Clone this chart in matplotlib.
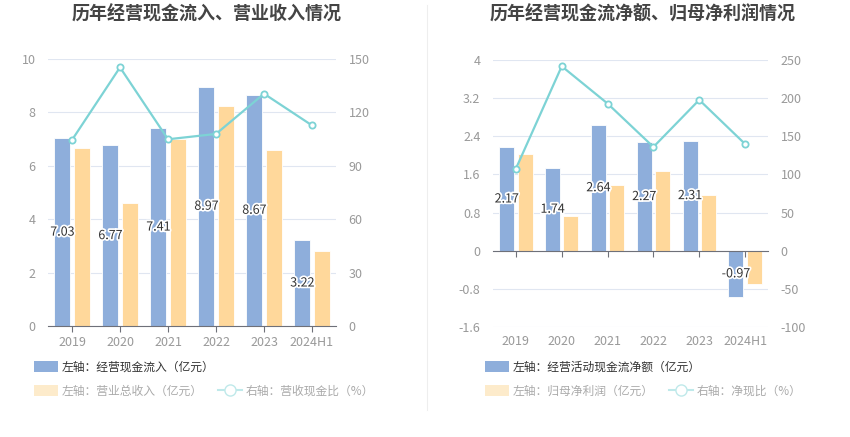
import numpy as np
import matplotlib
matplotlib.use("Agg")
import matplotlib.pyplot as plt
import matplotlib.patheffects as pe
from matplotlib.patches import Patch
from matplotlib.lines import Line2D

plt.rcParams['font.family'] = ['Noto Sans CJK SC', 'DejaVu Sans']
plt.rcParams['axes.unicode_minus'] = False

years = ['2019', '2020', '2021', '2022', '2023', '2024H1']

# left chart
inflow = [7.03, 6.77, 7.41, 8.97, 8.67, 3.22]
revenue = [6.68, 4.62, 7.00, 8.25, 6.60, 2.82]
inflow_ratio = [104.5, 145.3, 104.9, 107.9, 130.5, 112.7]

# right chart
net_cf = [2.17, 1.74, 2.64, 2.27, 2.31, -0.97]
net_profit = [2.02, 0.72, 1.37, 1.67, 1.16, -0.69]
net_ratio = [107.6, 241.8, 192.9, 136.0, 197.7, 139.9]

left_ticks = [0, 2, 4, 6, 8, 10]
left_rticks = [0, 30, 60, 90, 120, 150]
right_ticks = [-1.6, -0.8, 0, 0.8, 1.6, 2.4, 3.2, 4]
right_rticks = [-100, -50, 0, 50, 100, 150, 200, 250]

BLUE = '#8eaedb'
ORANGE = '#ffd89b'
TEAL = '#7dd3d5'
GRID = '#e0e6f1'
TICK = '#999999'
AXIS = '#6e7079'

fig = plt.figure(figsize=(8.5, 4.37), dpi=100)


def fmt(v):
    s = ('%.1f' % v).rstrip('0').rstrip('.')
    return s


def draw(rect, bars1, bars2, ratio, ticks, rticks, title_x, title):
    ax = fig.add_axes(rect)
    x = np.arange(len(years))
    w = 0.33
    ax.bar(x - 0.2, bars1, w, color=BLUE, edgecolor='white', linewidth=0.6, zorder=2)
    ax.bar(x + 0.2, bars2, w, color=ORANGE, edgecolor='white', linewidth=0.6, zorder=2)
    ax.set_ylim(ticks[0], ticks[-1])
    ax.set_xlim(-0.5, len(years) - 0.5)
    ax.set_yticks(ticks)
    ax.set_yticklabels([fmt(t) for t in ticks])
    ax.grid(axis='y', color=GRID, linewidth=0.8, zorder=0)
    ax.set_axisbelow(True)
    for s in ['top', 'right', 'left']:
        ax.spines[s].set_visible(False)
    ax.tick_params(axis='y', length=0, pad=9, labelsize=9, labelcolor=TICK)

    if ticks[0] < 0:
        # zero line with ticks, labels kept at the bottom
        ax.spines['bottom'].set_position(('data', 0))
        ax.spines['bottom'].set_color(AXIS)
        ax.tick_params(axis='x', length=4, color=AXIS, labelbottom=False)
        ax.set_xticks(x)
        sec = ax.secondary_xaxis(0)
        sec.set_xticks(x)
        sec.set_xticklabels(years)
        sec.spines['bottom'].set_visible(False)
        sec.tick_params(length=0, pad=6, labelsize=9, labelcolor=TICK)
    else:
        ax.spines['bottom'].set_color(AXIS)
        ax.set_xticks(x)
        ax.set_xticklabels(years)
        ax.tick_params(axis='x', length=4, color=AXIS, pad=3, labelsize=9, labelcolor=TICK)

    ax2 = ax.twinx()
    ax2.plot(x, ratio, color=TEAL, linewidth=1.6, marker='o', markersize=4.5,
             markerfacecolor='white', markeredgecolor=TEAL, markeredgewidth=1.3, zorder=5)
    ax2.set_ylim(rticks[0], rticks[-1])
    ax2.set_yticks(rticks)
    for s in ['top', 'right', 'left', 'bottom']:
        ax2.spines[s].set_visible(False)
    ax2.tick_params(axis='y', length=0, pad=9, labelsize=9, labelcolor=TICK)

    # value labels drawn on the top axes so they sit above bars and line
    for xi, v in zip(x, bars1):
        ax2.text(xi - 0.2, v / 2, '%.2f' % v, ha='center', va='center', fontsize=9,
                 color='#333333', zorder=6, transform=ax.transData,
                 path_effects=[pe.withStroke(linewidth=2.5, foreground='white')])

    fig.text(title_x, 1 - 14 / 437, title, ha='center', va='center', fontsize=13,
             fontweight='bold', color='#444444')


draw([48 / 850, 1 - 326 / 437, 288 / 850, 267 / 437], inflow, revenue, inflow_ratio,
     left_ticks, left_rticks, 207 / 850, '历年经营现金流入、营业收入情况')
draw([493 / 850, 1 - 327 / 437, 275 / 850, 267 / 437], net_cf, net_profit, net_ratio,
     right_ticks, right_rticks, 643 / 850, '历年经营现金流净额、归母净利润情况')

# divider
fig.add_artist(Line2D([427 / 850, 427 / 850], [1 - 5 / 437, 1 - 410 / 437],
                      color='#eeeeee', linewidth=0.8))


def legend_rows(x0, first, second, third):
    kw = dict(frameon=False, fontsize=8.5, handlelength=2.0, handleheight=1.1,
              handletextpad=0.35, borderpad=0, borderaxespad=0, loc='center left')
    l1 = fig.legend([Patch(facecolor=BLUE)], [first],
                    bbox_to_anchor=(x0, 1 - 367 / 437), **kw)
    for t in l1.get_texts():
        t.set_color('#333333')
    h2 = [Patch(facecolor='#fdebcb'),
          Line2D([0], [0], color='#bfe9ea', linewidth=1.5, marker='o', markersize=8,
                 markerfacecolor='white', markeredgecolor='#bfe9ea')]
    l2 = fig.legend(h2, [second, third], ncol=2, columnspacing=1.3,
                    bbox_to_anchor=(x0, 1 - 391 / 437), **kw)
    for t in l2.get_texts():
        t.set_color('#aaaaaa')


legend_rows(34 / 850, '左轴：经营现金流入（亿元）', '左轴：营业总收入（亿元）', '右轴：营收现金比（%）')
legend_rows(485 / 850, '左轴：经营活动现金流净额（亿元）', '左轴：归母净利润（亿元）', '右轴：净现比（%）')

fig.savefig('out.png', dpi=100)
